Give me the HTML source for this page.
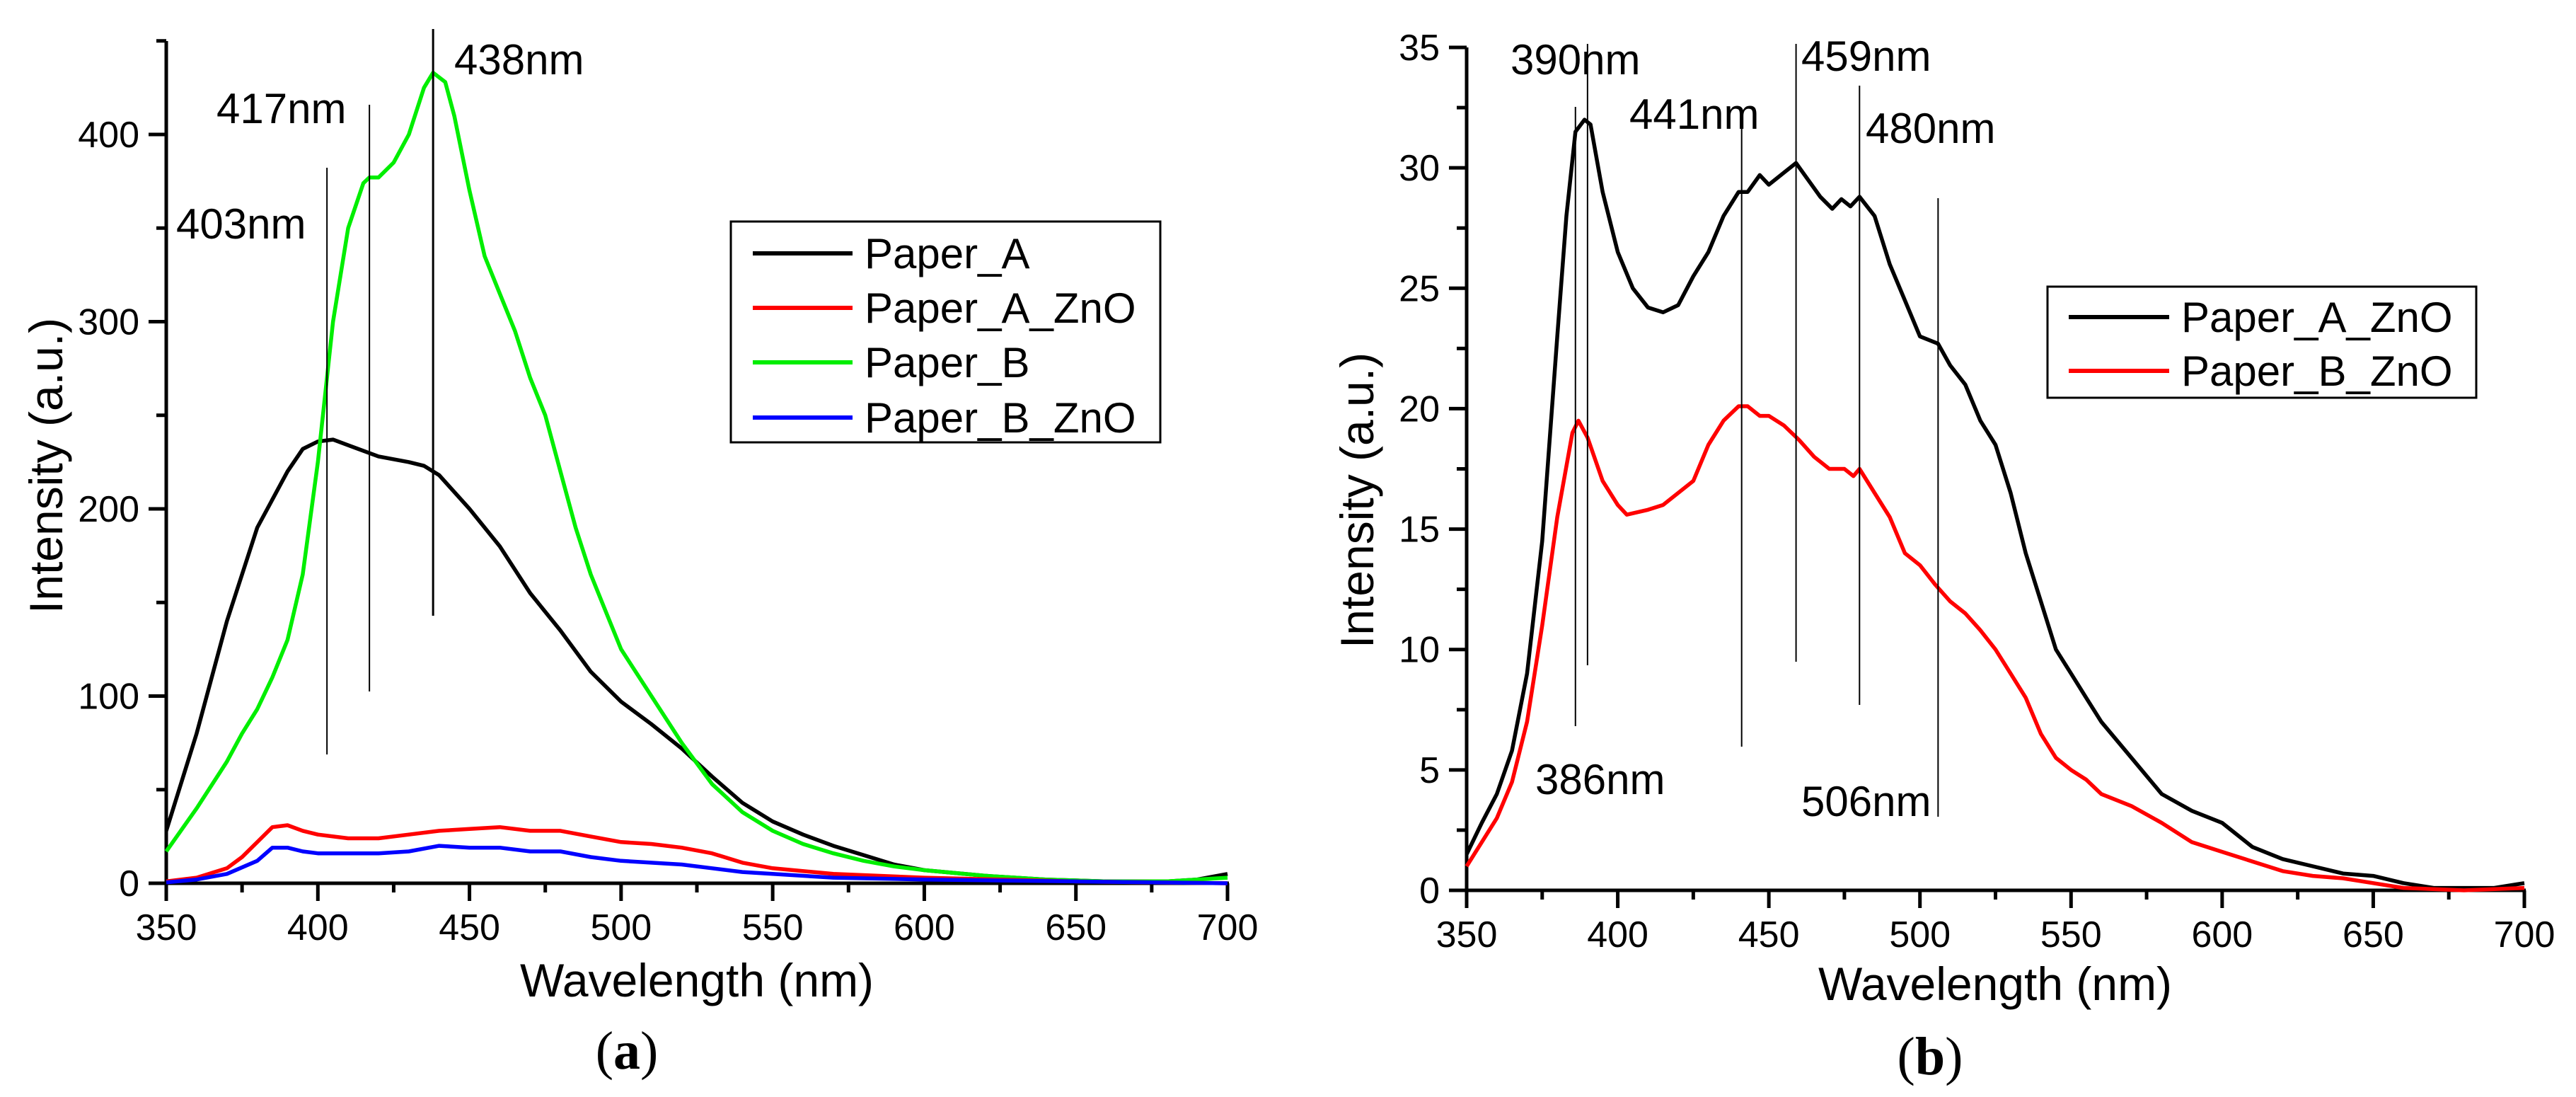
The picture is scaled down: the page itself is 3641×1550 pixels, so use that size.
<!DOCTYPE html>
<html><head><meta charset="utf-8"><style>
html,body{margin:0;padding:0;background:#fff}
svg{display:block}
text{font-family:"Liberation Sans",Arial,sans-serif;fill:#000}
text.serif{font-family:"Liberation Serif","Times New Roman",serif}
</style></head><body>
<svg id="fig" width="3641" height="1550" viewBox="0 0 3641 1550" xmlns="http://www.w3.org/2000/svg"></svg>
<script>
// ---- Panel (a) data ----
const aXTicks = [350,400,450,500,550,600,650,700];
const aYTicks = [0,100,200,300,400];
const aPaperA_x = [350,360,370,380,390,395,400,405,410,420,430,435,440,450,460,470,480,490,500,510,520,530,540,550,560,570,580,590,600,620,640,660,680,690,700];
const aPaperA_y = [28,80,140,190,220,232,236,237,234,228,225,223,218,200,180,155,135,113,97,85,72,57,43,33,26,20,15,10,7,4,2,1,1,2,5];
const aPaperB_x = [350,360,370,375,380,385,390,395,400,405,410,415,417,420,425,430,435,438,442,445,450,455,460,465,470,475,480,485,490,495,500,510,520,530,540,550,560,570,580,590,600,620,640,660,680,700];
const aPaperB_y = [17,40,65,80,93,110,130,165,225,300,350,374,377,377,385,400,425,433,428,410,370,335,315,295,270,250,220,190,165,145,125,100,75,53,38,28,21,16,12,9,7,4,2,1,1,3];
const aPaperAZnO_x = [350,360,370,375,380,385,390,395,400,410,420,430,440,450,460,470,480,490,500,510,520,530,540,550,570,600,650,700];
const aPaperAZnO_y = [1,3,8,14,22,30,31,28,26,24,24,26,28,29,30,28,28,25,22,21,19,16,11,8,5,3,1,0];
const aPaperBZnO_x = [350,360,370,380,385,390,395,400,410,420,430,440,450,460,470,480,490,500,520,530,540,550,570,600,650,700];
const aPaperBZnO_y = [0.5,2,5,12,19,19,17,16,16,16,17,20,19,19,17,17,14,12,10,8,6,5,3,2,1,0];
const aPeaks = [403,417,438];
const aPeakLabels = ["403nm","417nm","438nm"];

// ---- Panel (b) data ----
const bXTicks = [350,400,450,500,550,600,650,700];
const bYTicks = [0,5,10,15,20,25,30,35];
const bAZnO_x = [350,355,360,365,370,375,380,383,386,389,391,395,400,405,410,415,420,425,430,435,440,443,447,450,455,459,463,467,471,474,477,480,485,490,495,500,506,510,515,520,525,530,535,540,545,550,555,560,570,580,590,600,610,620,630,640,650,660,670,680,690,700];
const bAZnO_y = [1.5,2.8,4,5.8,9,14.5,23,28,31.5,32,31.8,29,26.5,25,24.2,24,24.3,25.5,26.5,28,29,29,29.7,29.3,29.8,30.2,29.5,28.8,28.3,28.7,28.4,28.8,28,26,24.5,23,22.7,21.8,21,19.5,18.5,16.5,14,12,10,9,8,7,5.5,4,3.3,2.8,1.8,1.3,1,0.7,0.6,0.3,0.1,0.1,0.1,0.3];
const bBZnO_x = [350,355,360,365,370,375,380,385,387,390,395,400,403,410,415,420,425,430,435,440,443,447,450,455,460,465,470,475,478,480,485,490,495,500,505,510,515,520,525,530,535,540,545,550,555,560,570,580,590,600,610,620,630,640,650,660,680,700];
const bBZnO_y = [1,2,3,4.5,7,11,15.5,19,19.5,18.8,17,16,15.6,15.8,16,16.5,17,18.5,19.5,20.1,20.1,19.7,19.7,19.3,18.7,18,17.5,17.5,17.2,17.5,16.5,15.5,14,13.5,12.7,12,11.5,10.8,10,9,8,6.5,5.5,5,4.6,4,3.5,2.8,2,1.6,1.2,0.8,0.6,0.5,0.3,0.1,0,0.1];
const bPeaks = [386,390,441,459,480,506];
const bPeakLabels = ["386nm","390nm","441nm","459nm","480nm","506nm"];

const NS="http://www.w3.org/2000/svg";
const svg=document.getElementById('fig');
function mk(tag,attrs,parent){const e=document.createElementNS(NS,tag);for(const k in attrs)e.setAttribute(k,attrs[k]);(parent||svg).appendChild(e);return e;}

function axisFns(x0,x1,xmin,xmax,y0,y1,ymin,ymax){
  return {X:v=>x0+(v-xmin)/(xmax-xmin)*(x1-x0), Y:v=>y0-(v-ymin)/(ymax-ymin)*(y0-y1)};
}
function drawAxes(g,fx,xt,yt,xmin,xmax,ymin,ymaxAxis,xMinorStep,yMinorStep,yTopPx){
  const X=fx.X,Y=fx.Y;
  const ax=mk('g',{},g);
  
  
  mk('line',{x1:X(xmin),y1:Y(ymin),x2:X(xmax)+2,y2:Y(ymin),stroke:'#000','stroke-width':5},ax);
  mk('line',{x1:X(xmin),y1:Y(ymin)+2,x2:X(xmin),y2:yTopPx,stroke:'#000','stroke-width':5},ax);
  for(let v=xmin;v<=xmax+0.001;v+=xMinorStep){
    const major=xt.includes(v);
    mk('line',{x1:X(v),y1:Y(ymin),x2:X(v),y2:Y(ymin)+(major?25:13),stroke:'#000','stroke-width':5},ax);
  }
  for(let v=ymin;v<=ymaxAxis+0.001;v+=yMinorStep){
    const major=yt.includes(v);
    mk('line',{x1:X(xmin),y1:Y(v),x2:X(xmin)-(major?25:14),y2:Y(v),stroke:'#000','stroke-width':5},ax);
  }
  xt.forEach(v=>{const t=mk('text',{x:X(v),y:Y(ymin)+80,'font-size':52,'text-anchor':'middle'},ax);t.textContent=v;
    
    });
  yt.forEach(v=>{const t=mk('text',{x:X(xmin)-38,y:Y(v)+18,'font-size':52,'text-anchor':'end'},ax);t.textContent=v;
    
    });
}
function drawLine(g,fx,xs,ys,color,name){
  const d=xs.map((v,i)=>(i?'L':'M')+fx.X(v).toFixed(1)+' '+fx.Y(ys[i]).toFixed(1)).join(' ');
  const p=mk('path',{d:d,fill:'none',stroke:color,'stroke-width':5.5,'stroke-linejoin':'round'},g);
  
  
}
function label(g,x,y,txt,size,name,anchor,extra){
  const t=mk('text',Object.assign({x:x,y:y,'font-size':size,'text-anchor':anchor||'start'},extra||{}),g);
  t.textContent=txt;
  
  
  return t;
}
function caption(g,x,y,letter,name){
  const t=mk('text',{x:x,y:y,'font-size':76,'text-anchor':'middle','class':'serif'},g);
  
  
  const a=mk('tspan',{},t);a.textContent='(';
  const b=mk('tspan',{'font-weight':'bold'},t);b.textContent=letter;
  const c=mk('tspan',{},t);c.textContent=')';
}
function legend(g,bx,by,bw,bh,entries,lineX1,lineX2,textX,ys){
  const lg=mk('g',{},g);
  
  
  mk('rect',{x:bx,y:by,width:bw,height:bh,fill:'#fff',stroke:'#000','stroke-width':3},lg);
  entries.forEach((e,i)=>{
    const eg=mk('g',{},lg);
    
    
    mk('line',{x1:lineX1,y1:ys[i],x2:lineX2,y2:ys[i],stroke:e[1],'stroke-width':6},eg);
    const t=mk('text',{x:textX,y:ys[i]+21,'font-size':60},eg);t.textContent=e[0];
  });
}

// ---- Panel (a) ----
const ga=mk('g',{});


const fa=axisFns(235,1735,350,700,1248,190,0,400);
drawAxes(ga,fa,aXTicks,aYTicks,350,700,0,450,25,50,58);
drawLine(ga,fa,aPaperA_x,aPaperA_y,'#000','paper-a-line');
drawLine(ga,fa,aPaperB_x,aPaperB_y,'#00ee00','paper-b-line');
drawLine(ga,fa,aPaperAZnO_x,aPaperAZnO_y,'#ff0000','paper-a-zno-line');
drawLine(ga,fa,aPaperBZnO_x,aPaperBZnO_y,'#0000ff','paper-b-zno-line');
const aLineY=[[237,1066],[148,977],[41,870]];
const aLab=[[249,316],[306,153],[642,84]];
aPeaks.forEach((p,i)=>{
  const l=mk('line',{x1:fa.X(p),y1:aLineY[i][0],x2:fa.X(p),y2:aLineY[i][1],stroke:'#000','stroke-width':i==2?3:2},ga);
  
  
  label(ga,aLab[i][0],aLab[i][1]+21,aPeakLabels[i],60,'peak-label');
});
legend(ga,1033,313,607,312,[['Paper_A','#000'],['Paper_A_ZnO','#ff0000'],['Paper_B','#00ee00'],['Paper_B_ZnO','#0000ff']],1064,1205,1222,[358,435,512,590]);
label(ga,985,1408,'Wavelength (nm)',66,'x-axis-title','middle');
label(ga,88,658,'Intensity (a.u.)',66,'y-axis-title','middle',{transform:'rotate(-90 88 658)'});
caption(ga,886,1510,'a','panel-a-caption');

// ---- Panel (b) ----
const gb=mk('g',{});


const fb=axisFns(2073,3568,350,700,1258,67,0,35);
drawAxes(gb,fb,bXTicks,bYTicks,350,700,0,35,25,2.5,67);
drawLine(gb,fb,bAZnO_x,bAZnO_y,'#000','paper-a-zno-line');
drawLine(gb,fb,bBZnO_x,bBZnO_y,'#ff0000','paper-b-zno-line');
const bLineY=[[151,1026],[62,940],[181,1055],[62,935],[121,996],[280,1154]];
const bLab=[[2170,1101],[2135,84],[2303,161],[2546,79],[2637,181],[2546,1132]];
bPeaks.forEach((p,i)=>{
  const l=mk('line',{x1:fb.X(p),y1:bLineY[i][0],x2:fb.X(p),y2:bLineY[i][1],stroke:'#000','stroke-width':2},gb);
  
  
  label(gb,bLab[i][0],bLab[i][1]+21,bPeakLabels[i],60,'peak-label');
});
legend(gb,2894,405,606,157,[['Paper_A_ZnO','#000'],['Paper_B_ZnO','#ff0000']],2924,3066,3083,[448,524]);
label(gb,2820,1413,'Wavelength (nm)',66,'x-axis-title','middle');
label(gb,1941,707,'Intensity (a.u.)',66,'y-axis-title','middle',{transform:'rotate(-90 1941 707)'});
caption(gb,2728,1518,'b','panel-b-caption');
</script>
</body></html>
